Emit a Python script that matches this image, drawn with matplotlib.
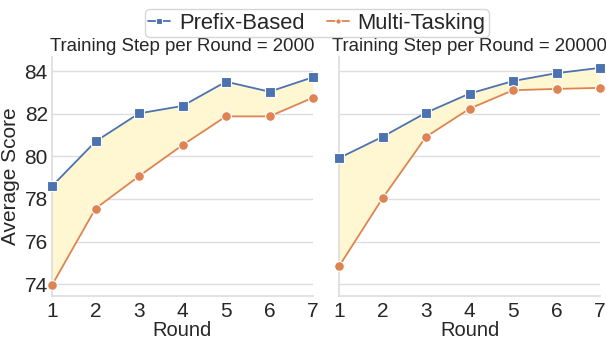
import matplotlib
matplotlib.use("Agg")
import matplotlib.pyplot as plt
import seaborn as sns

sns.set_theme(style="whitegrid")
plt.rcParams['font.family'] = ['Liberation Sans', 'DejaVu Sans']

rounds = [1, 2, 3, 4, 5, 6, 7]
titles = ["Training Step per Round = 2000", "Training Step per Round = 20000"]
prefix_2000 = [78.60, 80.70, 82.02, 82.37, 83.51, 83.04, 83.72]
multi_2000 = [73.95, 77.55, 79.07, 80.53, 81.88, 81.88, 82.76]
prefix_20000 = [79.92, 80.92, 82.05, 82.95, 83.54, 83.91, 84.16]
multi_20000 = [74.83, 78.03, 80.92, 82.24, 83.11, 83.17, 83.22]
yticks = [74, 76, 78, 80, 82, 84]

blue = "#4C72B0"
orange = "#DD8452"
fill = "#FFF7D1"

fig = plt.figure(figsize=(6.06, 3.4), dpi=100)
ax1 = fig.add_axes([52/606, 1-296/340, 261/606, 239/340])
ax2 = fig.add_axes([339/606, 1-296/340, 261/606, 239/340], sharey=ax1)

data = [(prefix_2000, multi_2000), (prefix_20000, multi_20000)]
for ax, (p, m), t in zip([ax1, ax2], data, titles):
    ax.fill_between(rounds, m, p, color=fill, zorder=1, linewidth=0)
    ax.plot(rounds, p, color=blue, marker="s", markersize=7, linewidth=1.3,
            markeredgecolor="white", markeredgewidth=0.8, label="Prefix-Based", zorder=3, clip_on=False)
    ax.plot(rounds, m, color=orange, marker="o", markersize=7, linewidth=1.3,
            markeredgecolor="white", markeredgewidth=0.8, label="Multi-Tasking", zorder=3, clip_on=False)
    ax.set_xlim(1, 7)
    ax.set_xticks(rounds)
    ax.set_title(t, fontsize=13.4, color="#262626", pad=4)
    ax.set_xlabel("Round", fontsize=14.5, color="#262626", labelpad=0)
    ax.grid(axis="x", visible=False)
    ax.grid(axis="y", color="#DDDDDD", linewidth=1)
    for s in ["top", "right"]:
        ax.spines[s].set_visible(False)
    for s in ["left", "bottom"]:
        ax.spines[s].set_color("#DDDDDD")
    ax.tick_params(axis="both", labelsize=15, colors="#262626", length=0)
    ax.tick_params(axis="x", pad=4)
    ax.tick_params(axis="y", pad=3)

ax1.set_ylim(73.44, 84.67)
ax1.set_yticks(yticks)
ax1.set_ylabel("Average Score", fontsize=15, color="#262626", labelpad=3)
plt.setp(ax2.get_yticklabels(), visible=False)

handles, labels = ax1.get_legend_handles_labels()
fig.legend(handles, labels, loc="upper center", bbox_to_anchor=(0.523, 1.005), ncol=2,
           fontsize=15.8, frameon=True, handlelength=1.0, handletextpad=0.4,
           columnspacing=1.0, borderpad=0.15, markerscale=0.55)

fig.savefig("out.png", dpi=100)
